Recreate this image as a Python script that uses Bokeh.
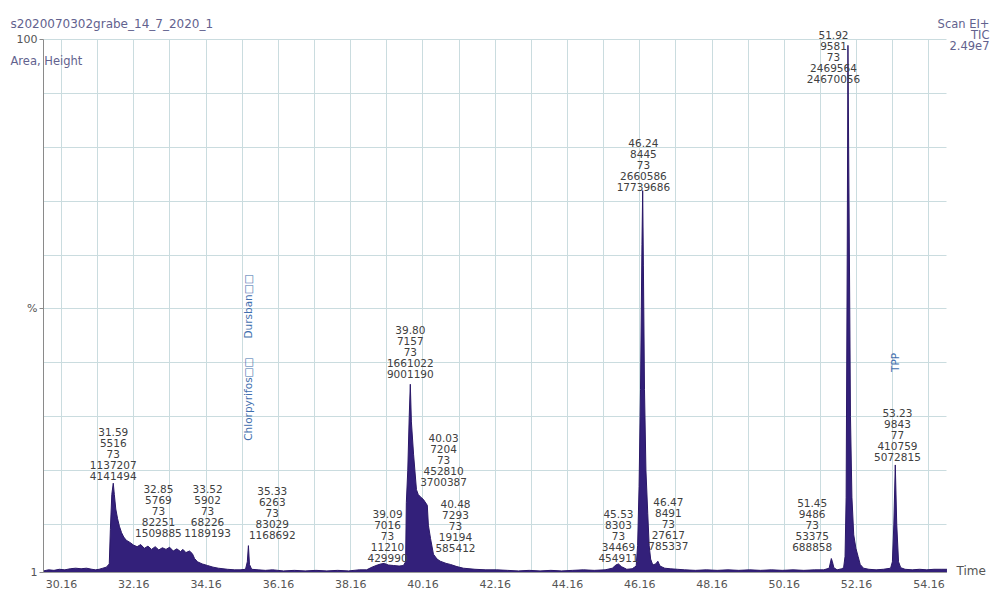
import math
from bokeh.plotting import figure
from bokeh.models import ColumnDataSource, FixedTicker, Range1d, LabelSet, Label
from bokeh.core.properties import value
from bokeh.embed import file_html
from bokeh.resources import INLINE

# ---------------- data ----------------
trace_time = [29.66, 29.80, 29.95, 30.10, 30.25, 30.40, 30.55, 30.70, 30.85, 31.00,
              31.10, 31.20, 31.30, 31.40, 31.48, 31.51, 31.55, 31.59, 31.62, 31.66,
              31.71, 31.76, 31.82, 31.88, 31.95, 32.05, 32.15, 32.25, 32.35, 32.45,
              32.55, 32.65, 32.75, 32.85, 32.95, 33.05, 33.15, 33.25, 33.35, 33.45,
              33.52, 33.60, 33.70, 33.78, 33.84, 33.92, 34.05, 34.20, 34.35, 34.50,
              34.75, 34.95, 35.10, 35.25, 35.30, 35.33, 35.36, 35.42, 35.60, 35.80,
              36.00, 36.30, 36.60, 36.90, 37.20, 37.50, 37.80, 38.10, 38.40, 38.60,
              38.75, 38.90, 39.00, 39.09, 39.20, 39.35, 39.50, 39.62, 39.68, 39.70,
              39.74, 39.78, 39.81, 39.84, 39.90, 39.98, 40.03, 40.10, 40.17, 40.28,
              40.31, 40.37, 40.45, 40.55, 40.64, 40.80, 40.92, 41.10, 41.28, 41.60,
              41.90, 42.20, 42.50, 42.80, 43.10, 43.40, 43.70, 44.00, 44.30, 44.60,
              44.90, 45.20, 45.40, 45.50, 45.57, 45.65, 45.80, 45.95, 46.06, 46.10,
              46.14, 46.18, 46.22, 46.24, 46.26, 46.29, 46.33, 46.38, 46.42, 46.46,
              46.52, 46.60, 46.66, 46.72, 46.85, 47.00, 47.20, 47.40, 47.70, 48.00,
              48.30, 48.60, 48.90, 49.20, 49.50, 49.80, 50.10, 50.40, 50.70, 51.00,
              51.25, 51.40, 51.46, 51.49, 51.53, 51.62, 51.75, 51.80, 51.84, 51.87,
              51.90, 51.92, 51.95, 51.99, 52.03, 52.08, 52.14, 52.20, 52.26, 52.35,
              52.50, 52.70, 52.90, 53.10, 53.15, 53.19, 53.23, 53.27, 53.32, 53.38,
              53.50, 53.70, 53.90, 54.10, 54.30, 54.50, 54.66]
trace_pct = [1.3, 1.5, 1.4, 1.6, 1.5, 1.7, 1.8, 1.7, 1.8, 1.6,
             1.5, 1.6, 1.8, 2.0, 2.6, 9.0, 15.5, 17.6, 15.5, 12.8,
             11.0, 9.6, 8.4, 7.6, 7.0, 6.6, 6.1, 5.8, 6.2, 5.5,
             5.9, 5.3, 5.8, 5.2, 5.6, 5.3, 5.7, 5.0, 5.4, 4.9,
             5.3, 4.7, 5.0, 4.5, 3.6, 3.0, 2.6, 2.3, 2.0, 1.8,
             1.6, 1.5, 1.5, 1.6, 3.0, 6.0, 2.5, 1.6, 1.5, 1.4,
             1.5, 1.3, 1.4, 1.3, 1.4, 1.3, 1.4, 1.3, 1.5, 1.5,
             2.0, 2.4, 2.6, 2.7, 2.4, 2.3, 2.2, 2.3, 3.0, 14.0,
             20.0, 30.0, 36.0, 29.0, 23.0, 16.4, 15.5, 15.0, 14.6, 13.5,
             9.8, 7.3, 4.4, 3.5, 3.1, 2.7, 2.5, 2.1, 1.8, 1.6,
             1.5, 1.5, 1.4, 1.3, 1.4, 1.3, 1.4, 1.3, 1.4, 1.5,
             1.4, 1.5, 1.8, 2.4, 2.6, 2.1, 1.6, 1.7, 2.2, 6.0,
             17.0, 35.0, 62.0, 72.0, 58.0, 35.0, 20.0, 12.0, 6.0, 3.5,
             2.4, 2.6, 3.1, 2.2, 1.8, 1.7, 1.6, 1.5, 1.4, 1.5,
             1.4, 1.5, 1.4, 1.5, 1.4, 1.5, 1.4, 1.5, 1.4, 1.5,
             1.5, 1.8, 3.6, 3.0, 1.9, 1.5, 1.7, 1.9, 4.0, 15.0,
             60.0, 99.0, 70.0, 30.0, 15.0, 8.0, 5.5, 4.0, 2.5, 1.8,
             1.6, 1.5, 1.6, 1.8, 3.0, 10.0, 21.0, 10.0, 3.0, 1.9,
             1.6, 1.5, 1.6, 1.5, 1.6, 1.6, 1.6]

peak_rt = [31.59, 32.85, 33.52, 35.33, 39.09, 39.80, 40.03, 40.48,
           45.53, 46.24, 46.47, 51.45, 51.92, 53.23]
peak_scan = [5516, 5769, 5902, 6263, 7016, 7157, 7204, 7293,
             8303, 8445, 8491, 9486, 9581, 9843]
peak_mass = [73, 73, 73, 73, 73, 73, 73, 73, 73, 73, 73, 73, 73, 77]
peak_area = [1137207, 82251, 68226, 83029, 11210, 1661022, 452810, 19194,
             34469, 2660586, 27617, 53375, 2469564, 410759]
peak_height = [4141494, 1509885, 1189193, 1168692, 429990, 9001190, 3700387, 585412,
               454911, 17739686, 785337, 688858, 24670056, 5072815]

compound_names = ["Chlorpyrifos\u25a1\u25a1", "Dursban\u25a1\u25a1", "TPP"]
compound_rt = [35.33, 35.33, 53.23]

x_ticks = [30.16, 32.16, 34.16, 36.16, 38.16, 40.16, 42.16, 44.16, 46.16,
           48.16, 50.16, 52.16, 54.16]
x_tick_labels = ["30.16", "32.16", "34.16", "36.16", "38.16", "40.16", "42.16",
                 "44.16", "46.16", "48.16", "50.16", "52.16", "54.16"]
x_minor_ticks = [31.16, 33.16, 35.16, 37.16, 39.16, 41.16, 43.16, 45.16,
                 47.16, 49.16, 51.16, 53.16]
y_ticks = [1, 50, 100]
y_tick_labels = ["1", "%", "100"]
y_grid_ticks = [10, 20, 30, 40, 50, 60, 70, 80, 90, 100]

run_name = "s2020070302grabe_14_7_2020_1"
y_caption = "Area, Height"
scan_info = ["Scan EI+", "TIC", "2.49e7"]
x_caption = "Time"

# ---------------- layout (placement only, not data) ----------------
T0, T1 = 29.66, 54.66           # time span of the plotted trace / axis
label_t = [31.59, 32.84, 34.20, 35.99, 39.18, 39.81, 40.73, 41.06,
           45.57, 46.26, 46.95, 50.93, 51.52, 53.29]
label_pct = [18.2, 7.6, 7.6, 7.2, 3.0, 37.2, 17.1, 4.8,
             3.0, 71.9, 5.2, 5.0, 92.0, 21.7]
compound_pct = [25.5, 44.5, 38.3]
LINE_H = 11
W, H = 992, 593

FONT = "DejaVu Sans"
GRID = "#cadcdf"
FILL = "#33207a"
EDGE = "#2a1868"
PURPLE_TXT = "#62628e"

p = figure(width=W, height=H, output_backend="svg", toolbar_location=None,
           x_range=Range1d(28.47, 55.92), y_range=Range1d(-2.90, 107.34),
           min_border=0, min_border_left=0, min_border_right=0,
           min_border_top=0, min_border_bottom=0)
p.title.visible = False
p.outline_line_color = None
p.background_fill_color = "white"
p.border_fill_color = "white"

# grid
xg = p.xgrid[0]
yg = p.ygrid[0]
xg.ticker = FixedTicker(ticks=x_ticks, minor_ticks=x_minor_ticks)
yg.ticker = FixedTicker(ticks=y_grid_ticks)
if "cross_bounds" in xg.properties():
    xg.cross_bounds = (y_ticks[0], y_ticks[-1])
    yg.cross_bounds = (T0, T1)
    xg.grid_line_color = GRID
    xg.minor_grid_line_color = GRID
    yg.grid_line_color = GRID
else:
    xg.grid_line_color = None
    yg.grid_line_color = None
    gx = x_ticks + x_minor_ticks
    p.segment(x0=gx, y0=[y_ticks[0]] * len(gx), x1=gx, y1=[y_ticks[-1]] * len(gx),
              line_color=GRID, line_width=1)
    p.segment(x0=[T0] * len(y_grid_ticks), y0=y_grid_ticks,
              x1=[T1] * len(y_grid_ticks), y1=y_grid_ticks,
              line_color=GRID, line_width=1)

# axes drawn inside the canvas at fixed locations
xa = p.xaxis[0]
ya = p.yaxis[0]
xa.fixed_location = y_ticks[0]
xa.bounds = (T0, T1)
xa.ticker = FixedTicker(ticks=x_ticks, minor_ticks=x_minor_ticks)
xa.major_label_overrides = dict(zip(x_ticks, x_tick_labels))
xa.axis_line_color = "#9a9a9a"
xa.major_tick_line_color = None
xa.minor_tick_line_color = None
xa.major_label_standoff = 1
xa.major_label_text_font = FONT
xa.major_label_text_font_size = "11px"
xa.major_label_text_color = "#555555"

ya.fixed_location = T0
ya.bounds = (y_ticks[0], y_ticks[-1])
ya.ticker = FixedTicker(ticks=y_ticks)
ya.major_label_overrides = dict(zip(y_ticks, y_tick_labels))
ya.axis_line_color = "#8a8a8a"
ya.major_tick_line_color = "#8a8a8a"
ya.major_tick_out = 4
ya.major_tick_in = 0
ya.minor_tick_line_color = None
ya.major_label_standoff = 2
ya.major_label_text_font = FONT
ya.major_label_text_font_size = "11px"
ya.major_label_text_color = "#555555"

# chromatogram trace
p.varea(x=trace_time, y1=y_ticks[0], y2=trace_pct, fill_color=FILL)
p.line(x=trace_time, y=trace_pct, line_color=EDGE, line_width=1)

# compound names (vertical)
p.text(x=compound_rt, y=compound_pct, text=compound_names, angle=math.pi / 2,
       text_align="left", text_baseline="middle", text_color="#3f6fae",
       text_font=value(FONT), text_font_size=value("10.5px"))

# peak annotation blocks: RT / scan / mass / area / height
lx, ly, lt, lo = [], [], [], []
for i in range(len(peak_rt)):
    lines = [f"{peak_rt[i]:.2f}", str(peak_scan[i]), str(peak_mass[i]),
             str(peak_area[i]), str(peak_height[i])]
    for j, s in enumerate(lines):
        lx.append(label_t[i])
        ly.append(label_pct[i])
        lt.append(s)
        lo.append((len(lines) - 1 - j) * LINE_H)
src = ColumnDataSource(dict(x=lx, y=ly, text=lt, yoff=lo))
p.add_layout(LabelSet(x="x", y="y", text="text", y_offset="yoff", source=src,
                      text_align="center", text_baseline="bottom",
                      text_font=value(FONT), text_font_size=value("10.5px"),
                      text_color="#404040"))

# header / corner texts (screen px: x from left, y from bottom)
p.add_layout(Label(x=10, y=H - 23, x_units="screen", y_units="screen", text=run_name,
                   text_align="left", text_baseline="middle", text_font=FONT,
                   text_font_size="12px", text_color=PURPLE_TXT))
p.add_layout(Label(x=10, y=H - 60, x_units="screen", y_units="screen", text=y_caption,
                   text_align="left", text_baseline="middle", text_font=FONT,
                   text_font_size="11.5px", text_color=PURPLE_TXT))
for k, s in enumerate(scan_info):
    p.add_layout(Label(x=989, y=H - 23 - k * 11, x_units="screen", y_units="screen",
                       text=s, text_align="right", text_baseline="middle",
                       text_font=FONT, text_font_size="11.5px", text_color=PURPLE_TXT))
p.add_layout(Label(x=956, y=H - 570, x_units="screen", y_units="screen", text=x_caption,
                   text_align="left", text_baseline="middle", text_font=FONT,
                   text_font_size="12px", text_color="#555555"))

open("out.html", "w").write(file_html(p, INLINE))
